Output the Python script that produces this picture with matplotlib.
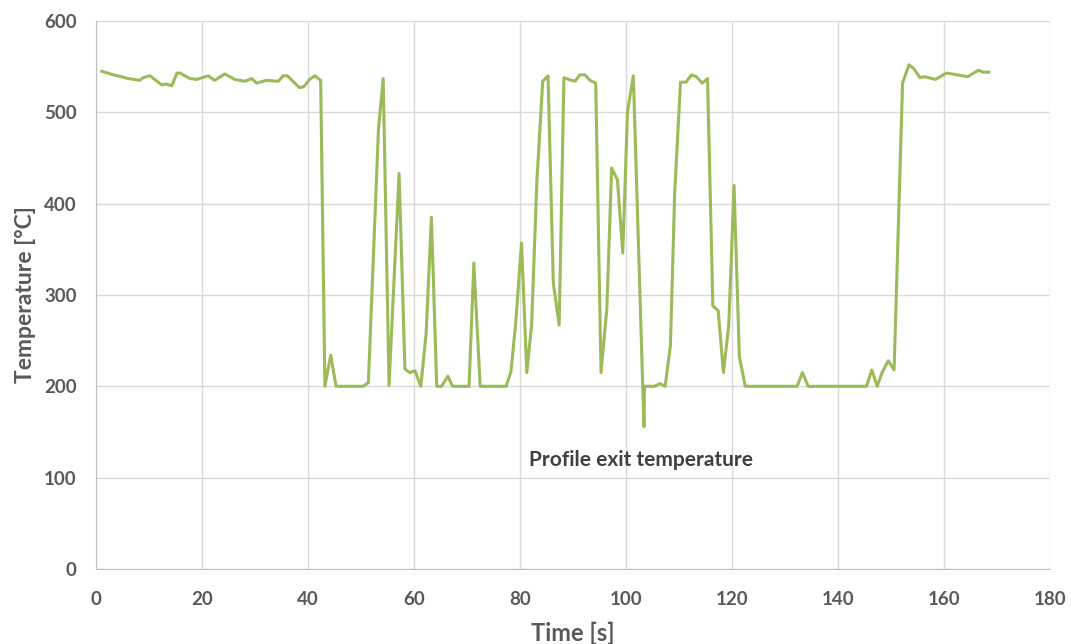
import matplotlib.pyplot as plt

# time [s] and profile exit temperature [°C]
time_s = [1.1, 3.3, 4.8, 6.1, 8.3, 8.9, 10.2, 12.4, 13.3, 14.3, 15.3, 15.9,
          17.7, 19.0, 21.2, 22.4, 24.3, 26.2, 28.1, 29.4, 30.3, 32.2, 34.4,
          35.3, 36.1, 38.4, 39.2, 40.3, 41.3, 42.4,
          43.2, 44.3, 45.3, 50.4, 51.4, 53.3, 54.2, 55.3, 57.2, 58.3, 59.2,
          60.2, 61.3, 62.3, 63.3, 64.3, 65.2, 66.4, 67.3, 70.4, 71.3, 72.5,
          77.4, 78.3, 79.2, 80.3, 81.3, 82.2, 83.2, 84.3, 85.3, 86.3, 87.4,
          88.3, 89.2, 90.4, 91.3, 92.3, 93.2, 94.3, 95.3, 96.4, 97.3, 98.4,
          99.4, 100.3, 101.4, 103.4, 103.5, 105.4, 106.4, 107.4, 108.4,
          109.2, 110.3, 111.3, 112.4, 113.3, 114.4, 115.4, 116.4, 117.4,
          118.4, 119.4, 120.4, 121.4, 122.5, 132.3, 133.3, 134.4, 145.4,
          146.4, 147.4, 148.4, 149.5, 150.6, 152.2, 153.4, 154.3, 155.5,
          156.4, 158.4, 160.5, 162.5, 164.5, 166.5, 167.4, 168.5]
temp_c = [545, 541, 539, 537, 535, 538, 540, 530, 531, 529, 543, 543,
          537, 536, 540, 535, 542, 536, 534, 537, 532, 535, 534,
          540, 540, 527, 528, 536, 540, 535,
          200, 234, 200, 200, 204, 481, 537, 201, 433, 219, 215,
          217, 200, 258, 385, 200, 200, 211, 200, 200, 335, 200,
          200, 216, 269, 357, 215, 267, 425, 534, 540, 313, 267,
          538, 536, 534, 541, 541, 535, 532, 215, 285, 439, 426,
          346, 501, 540, 156, 200, 200, 203, 200, 245,
          412, 533, 533, 541, 539, 532, 537, 288, 283,
          215, 267, 420, 233, 200, 200, 215, 200, 200,
          218, 200, 216, 228, 218, 532, 552, 548, 538,
          539, 536, 543, 541, 539, 546, 544, 544]

fig = plt.figure(figsize=(10.71, 6.44), dpi=100)
ax = fig.add_axes([0.0896, 0.1165, 0.8907, 0.8509])

ax.plot(time_s, temp_c, color='#9BBB59', linewidth=2.2)

ax.set_xlim(0, 180)
ax.set_ylim(0, 600)
ax.set_xticks(range(0, 181, 20))
ax.set_yticks(range(0, 601, 100))
ax.grid(True, color='#d9d9d9', linewidth=1.0)
ax.set_axisbelow(True)

for s in ['top', 'right']:
    ax.spines[s].set_visible(False)
for s in ['left', 'bottom']:
    ax.spines[s].set_color('#bfbfbf')

ax.tick_params(length=0, labelcolor='#595959', labelsize=13.5)
ax.tick_params(axis='x', pad=16)
ax.tick_params(axis='y', pad=14)
for lab in ax.get_xticklabels() + ax.get_yticklabels():
    lab.set_fontweight('bold')
    lab.set_fontfamily('Lato')

ax.set_xlabel('Time [s]', fontsize=17, fontweight='bold', color='#595959',
              family='Lato', labelpad=10)
ax.set_ylabel('Temperature [°C]', fontsize=16.5, fontweight='bold',
              color='#595959', family='Lato', labelpad=6)

ax.text(81.8, 119, 'Profile exit temperature', fontsize=15, fontweight='bold',
        color='#404040', family='Lato', va='center')

fig.savefig('out.png', dpi=100)
